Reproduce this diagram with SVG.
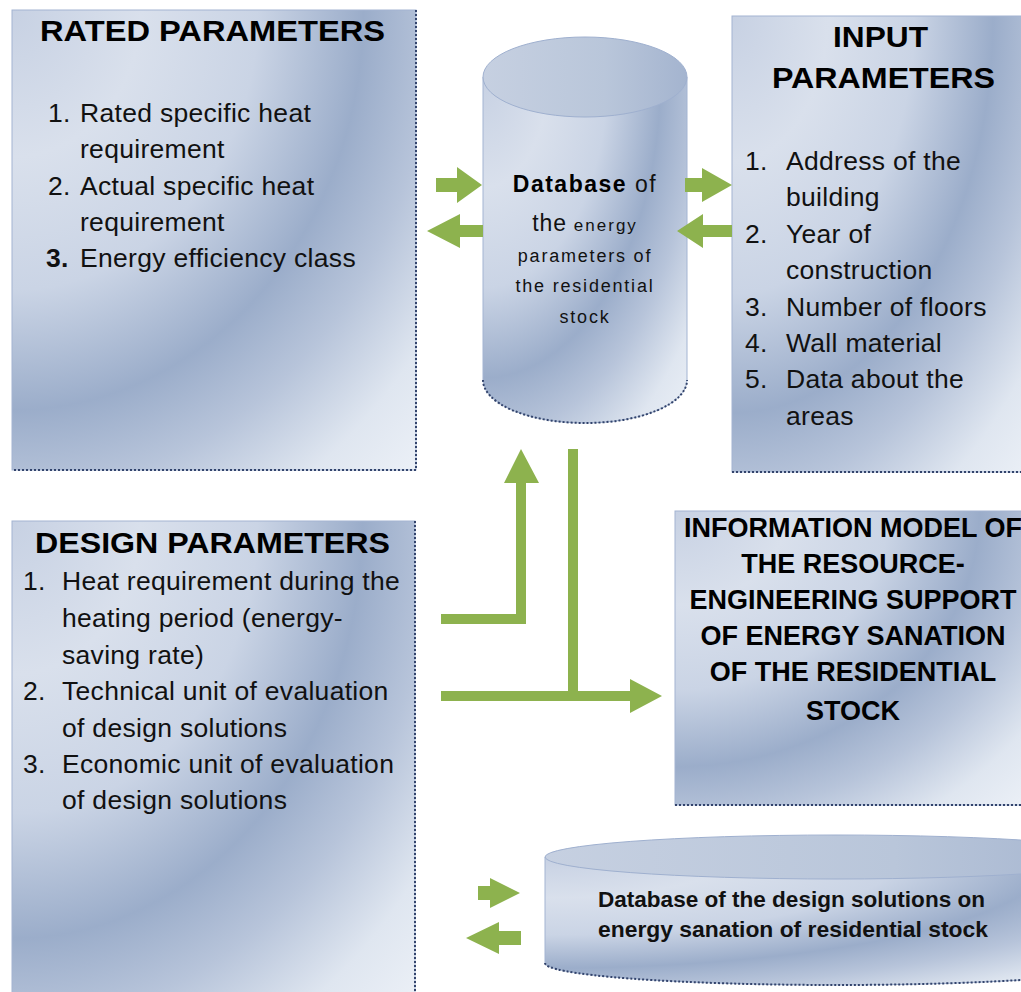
<svg xmlns="http://www.w3.org/2000/svg" width="1021" height="992" viewBox="0 0 1021 992">
  <defs>
    <!-- shaded panel fill: light near the top-left corner, a darker band further out, light again at the far corner -->
    <radialGradient id="panelFill" gradientUnits="objectBoundingBox" cx="0" cy="0" fx="0" fy="0" r="1.45">
      <stop offset="0" stop-color="#c7d1e3"/>
      <stop offset="0.22" stop-color="#d9e0ec"/>
      <stop offset="0.42" stop-color="#cad4e5"/>
      <stop offset="0.6" stop-color="#9badca"/>
      <stop offset="0.72" stop-color="#b7c4da"/>
      <stop offset="0.86" stop-color="#dfe6f0"/>
      <stop offset="1" stop-color="#eef2f8"/>
    </radialGradient>
    <linearGradient id="lidFill" x1="0" y1="0" x2="1" y2="0">
      <stop offset="0" stop-color="#c6d0e1"/>
      <stop offset="0.6" stop-color="#b9c6da"/>
      <stop offset="1" stop-color="#a4b4cf"/>
    </linearGradient>
    <style>
      .panel { fill: url(#panelFill); stroke: #a3b4d2; stroke-width: 1; }
      .lid { fill: url(#lidFill); stroke: #9fb0cf; stroke-width: 1; }
      .edge { fill: none; stroke: #33446c; stroke-width: 2; stroke-dasharray: 2 2; }
      .title { font-family: "Liberation Sans", Arial, sans-serif; font-weight: bold; font-size: 29px; fill: #000; }
      .item { font-family: "Liberation Sans", Arial, sans-serif; font-size: 26.5px; letter-spacing: 0.3px; fill: #111; }
      .bold { font-weight: bold; }
      .caps { font-family: "Liberation Sans", Arial, sans-serif; font-weight: bold; font-size: 27px; fill: #000; text-anchor: middle; }
      .db { font-family: "Liberation Sans", Arial, sans-serif; font-size: 18px; letter-spacing: 1.8px; fill: #111; text-anchor: middle; }
      .db2 { font-family: "Liberation Sans", Arial, sans-serif; font-weight: bold; font-size: 22px; fill: #111; }
      .arrow { fill: #8db24e; }
    </style>
  </defs>

  <rect width="1021" height="992" fill="#ffffff"/>

  <!-- Rated parameters -->
  <g id="rated-parameters">
    <rect class="panel" x="12" y="10" width="404" height="460"/>
    <path class="edge" d="M416 10 V470 H12"/>
    <text class="title" x="40" y="41" textLength="345" lengthAdjust="spacingAndGlyphs">RATED PARAMETERS</text>
    <text class="item" x="48" y="122">1.</text>
    <text class="item" x="80" y="122">Rated specific heat</text>
    <text class="item" x="80" y="158">requirement</text>
    <text class="item" x="48" y="195">2.</text>
    <text class="item" x="80" y="195">Actual specific heat</text>
    <text class="item" x="80" y="231">requirement</text>
    <text class="item bold" x="46" y="267">3.</text>
    <text class="item" x="80" y="267">Energy efficiency class</text>
  </g>

  <!-- Input parameters -->
  <g id="input-parameters">
    <rect class="panel" x="732" y="16" width="300" height="456"/>
    <path class="edge" d="M732 472 H1032"/>
    <text class="title" x="833" y="47" textLength="95" lengthAdjust="spacingAndGlyphs">INPUT</text>
    <text class="title" x="772" y="88" textLength="223" lengthAdjust="spacingAndGlyphs">PARAMETERS</text>
    <text class="item" x="745" y="170">1.</text>
    <text class="item" x="786" y="170">Address of the</text>
    <text class="item" x="786" y="206">building</text>
    <text class="item" x="745" y="243">2.</text>
    <text class="item" x="786" y="243">Year of</text>
    <text class="item" x="786" y="279">construction</text>
    <text class="item" x="745" y="316">3.</text>
    <text class="item" x="786" y="316">Number of floors</text>
    <text class="item" x="745" y="352">4.</text>
    <text class="item" x="786" y="352">Wall material</text>
    <text class="item" x="745" y="388">5.</text>
    <text class="item" x="786" y="388">Data about the</text>
    <text class="item" x="786" y="425">areas</text>
  </g>

  <!-- Design parameters -->
  <g id="design-parameters">
    <rect class="panel" x="12" y="521" width="403" height="480"/>
    <path class="edge" d="M415 521 V1001"/>
    <text class="title" x="35" y="553" textLength="355" lengthAdjust="spacingAndGlyphs">DESIGN PARAMETERS</text>
    <text class="item" x="23" y="590">1.</text>
    <text class="item" x="62" y="590">Heat requirement during the</text>
    <text class="item" x="62" y="627">heating period (energy-</text>
    <text class="item" x="62" y="664">saving rate)</text>
    <text class="item" x="23" y="700">2.</text>
    <text class="item" x="62" y="700">Technical unit of evaluation</text>
    <text class="item" x="62" y="737">of design solutions</text>
    <text class="item" x="23" y="773">3.</text>
    <text class="item" x="62" y="773">Economic unit of evaluation</text>
    <text class="item" x="62" y="809">of design solutions</text>
  </g>

  <!-- Information model -->
  <g id="information-model">
    <rect class="panel" x="675" y="511" width="350" height="294"/>
    <path class="edge" d="M675 805 H1025"/>
    <text class="caps" x="853" y="537">INFORMATION MODEL OF</text>
    <text class="caps" x="853" y="573">THE RESOURCE-</text>
    <text class="caps" x="853" y="609">ENGINEERING SUPPORT</text>
    <text class="caps" x="853" y="645">OF ENERGY SANATION</text>
    <text class="caps" x="853" y="681">OF THE RESIDENTIAL</text>
    <text class="caps" x="853" y="720">STOCK</text>
  </g>

  <!-- Database of energy parameters (cylinder) -->
  <g id="energy-database">
    <path class="panel" d="M483 77 V380 A102 43 0 0 0 687 380 V77 Z"/>
    <ellipse class="lid" cx="585" cy="77" rx="102" ry="40"/>
    <path class="edge" d="M483 380 A102 43 0 0 0 687 380"/>
    <text x="585" y="192" text-anchor="middle" font-family="Liberation Sans, Arial, sans-serif" font-size="23" fill="#111" letter-spacing="1.5"><tspan font-weight="bold" fill="#000">Database</tspan> of</text>
    <text x="585" y="231" text-anchor="middle" font-family="Liberation Sans, Arial, sans-serif" fill="#111"><tspan font-size="23" letter-spacing="1">the</tspan><tspan font-size="17" letter-spacing="2"> energy</tspan></text>
    <text class="db" x="585" y="262">parameters of</text>
    <text class="db" x="585" y="292">the residential</text>
    <text class="db" x="585" y="323">stock</text>
  </g>

  <!-- Database of design solutions (flat cylinder) -->
  <g id="solutions-database">
    <path class="panel" d="M545 857 V963 A291 22 0 0 0 1127 963 V857 Z"/>
    <ellipse class="lid" cx="836" cy="857" rx="291" ry="22"/>
    <path class="edge" d="M545 963 A291 22 0 0 0 1127 963"/>
    <text class="db2" x="598" y="907" textLength="387" lengthAdjust="spacingAndGlyphs">Database of the design solutions on</text>
    <text class="db2" x="598" y="937" textLength="390" lengthAdjust="spacingAndGlyphs">energy sanation of residential stock</text>
  </g>

  <!-- Connectors -->
  <g id="connectors" class="arrow">
    <polygon points="436,178 457,178 457,167 482,185 457,203 457,192 436,192"/>
    <polygon points="483,225 460,225 460,214 427,231 460,248 460,237 483,237"/>
    <polygon points="685,178 702,178 702,168 732,185 702,202 702,192 685,192"/>
    <polygon points="732,225 703,225 703,214 677,231 703,248 703,237 732,237"/>
    <polygon points="441,614 516,614 516,483 504,483 521,449 539,483 526,483 526,624 441,624"/>
    <rect x="568" y="449" width="10" height="252"/>
    <polygon points="441,691 630,691 630,679 662,696 630,713 630,701 441,701"/>
    <polygon points="478,886 490,886 490,878 520,893 490,908 490,900 478,900"/>
    <polygon points="521,931 499,931 499,922 466,938 499,954 499,945 521,945"/>
  </g>
</svg>
